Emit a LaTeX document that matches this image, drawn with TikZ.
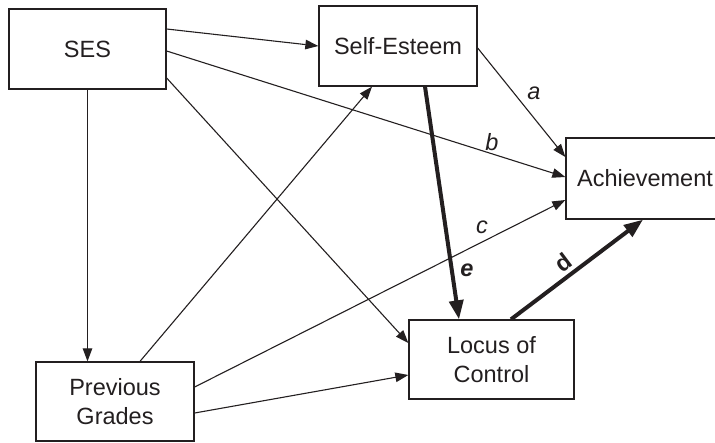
\documentclass[tikz,border=0pt]{standalone}
\usepackage{fontspec}
\setmainfont{Liberation Sans}
\usetikzlibrary{arrows.meta,calc}
\definecolor{ink}{HTML}{231F20}
\begin{document}
\begin{tikzpicture}[x=1pt,y=-1pt,
  box/.style={draw=ink,line width=1.3pt,fill=white,inner sep=0pt,align=center,
    font=\fontsize{23.5}{29}\selectfont,text=ink},
  path/.style={draw=ink,line width=1.1pt,-{Triangle[length=13pt,width=9.5pt]}},
  strong/.style={draw=ink,line width=4pt,-{Triangle[length=19pt,width=14pt]}},
  lab/.style={font=\fontsize{23.5}{29}\selectfont,text=ink,inner sep=0pt}]
\useasboundingbox (0,0) rectangle (715,442);
\begin{scope}
\clip (0,0) rectangle (715,442);
% variables
\node[box,minimum width=157pt,minimum height=80pt] (ses) at (87.5,49) {SES};
\node[box,minimum width=158pt,minimum height=80pt] (se) at (398,46) {Self-Esteem};
\node[box,minimum width=158pt,minimum height=81pt] (ach) at (645,178.5) {Achievement};
\node[box,minimum width=165pt,minimum height=79pt] (loc) at (491.5,359.5) {Locus of\\Control};
\node[box,minimum width=158pt,minimum height=79pt] (pg) at (115,401.5) {Previous\\Grades};
\end{scope}
% paths from SES (shifts are in page units: positive yshift is upward)
\draw[path] ([yshift=20pt]ses.east) -- (se.west);
\draw[path] ([yshift=-2pt]ses.east) -- ([yshift=1.5pt]ach.west);
\draw[path] ([yshift=-29pt]ses.east) -- ([yshift=16.5pt]loc.west);
\draw[path] (ses.south) -- (ses.south |- pg.north);
% paths from Self-Esteem
\draw[path] ([yshift=-2pt]se.east) -- ([yshift=21.5pt]ach.west);
\draw[strong] ([xshift=27pt]se.south) -- ([xshift=-32.5pt]loc.north);
% paths from Previous Grades
\draw[path] ([xshift=25pt]pg.north) -- ([xshift=-26pt]se.south);
\draw[path] ([yshift=14.5pt]pg.east) -- ([yshift=-21.5pt]ach.west);
\draw[path] ([yshift=-11.5pt]pg.east) -- ([yshift=-15.5pt]loc.west);
% path from Locus of Control
\draw[strong] ([xshift=19.5pt]loc.north) -- ([xshift=-2pt]ach.south);
% path labels
\node[lab] (la) at (534,93) {\itshape a};
\node[lab] (lb) at (492,142) {\itshape b};
\node[lab] (lc) at (482,227) {\itshape c};
\node[lab,rotate=37] (ld) at (563,262) {\bfseries d};
\node[lab] (le) at (467,270) {\bfseries\itshape e};
\end{tikzpicture}
\end{document}
